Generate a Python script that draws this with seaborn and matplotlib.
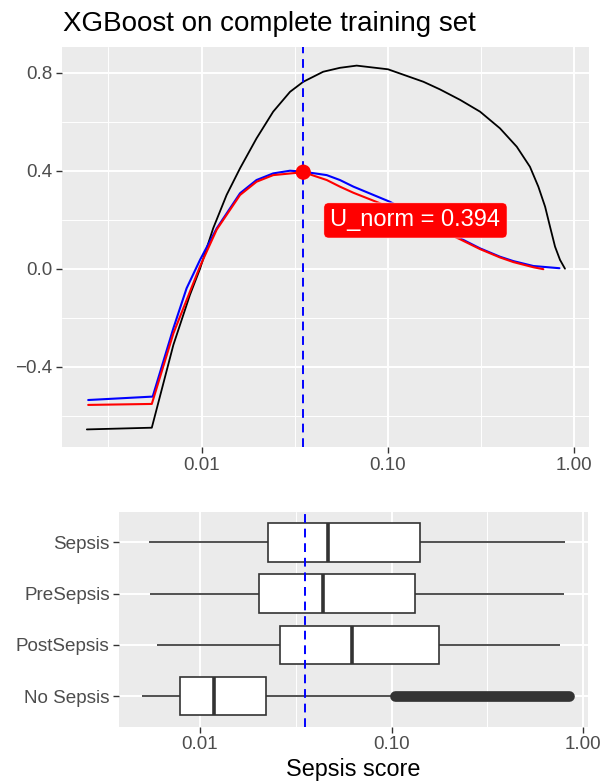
# XGBoost sepsis score: utility curve + score distribution per class

import numpy as np
import pandas as pd
import seaborn as sns
import matplotlib.pyplot as plt
from matplotlib.ticker import FixedLocator, NullFormatter

# utility curves (top panel)
black_x = [0.00242, 0.00540, 0.00705, 0.00865, 0.0098, 0.01153, 0.01361, 0.01607, 0.0197,
           0.0242, 0.0298, 0.0351, 0.0449, 0.0552, 0.0679, 0.1, 0.155, 0.190, 0.244,
           0.312, 0.399, 0.491, 0.578, 0.641, 0.697, 0.741, 0.788, 0.838, 0.891]
black_y = [-0.656, -0.649, -0.311, -0.107, 0.0, 0.165, 0.301, 0.410, 0.532,
           0.641, 0.722, 0.763, 0.804, 0.820, 0.829, 0.814, 0.763, 0.732, 0.689,
           0.641, 0.573, 0.498, 0.416, 0.335, 0.253, 0.171, 0.090, 0.036, 0.0]

blue_x = [0.00246, 0.00546, 0.00705, 0.0083, 0.0098, 0.01205, 0.01607, 0.0197, 0.0242,
          0.0298, 0.0351, 0.0469, 0.0552, 0.0652, 0.1025, 0.244, 0.312, 0.399, 0.471,
          0.603, 0.832]
blue_y = [-0.536, -0.522, -0.243, -0.080, 0.036, 0.165, 0.308, 0.362, 0.389,
          0.400, 0.396, 0.382, 0.362, 0.335, 0.273, 0.124, 0.083, 0.049, 0.031,
          0.011, 0.002]

red_x = [0.00246, 0.00540, 0.00705, 0.0098, 0.01205, 0.01607, 0.0197, 0.0242, 0.0351,
         0.0469, 0.0552, 0.0652, 0.0906, 0.244, 0.312, 0.399, 0.471, 0.603, 0.682]
red_y = [-0.556, -0.552, -0.264, 0.010, 0.160, 0.301, 0.355, 0.382, 0.394,
         0.362, 0.335, 0.310, 0.267, 0.120, 0.080, 0.046, 0.027, 0.006, -0.002]

threshold = 0.0351
u_norm = 0.394

# score distribution (bottom panel) - five-number summaries
groups = ["Sepsis", "PreSepsis", "PostSepsis", "No Sepsis"]
whisker_lo = [0.00544, 0.00550, 0.00594, 0.00497]
q1 = [0.02265, 0.0203, 0.0262, 0.00789]
median = [0.0468, 0.0440, 0.0619, 0.01183]
q3 = [0.1406, 0.1324, 0.1766, 0.0222]
whisker_hi = [0.803, 0.795, 0.757, 0.100]
# No Sepsis outliers form a solid band between these scores
nosepsis_outliers = [0.104, 0.84]

x_ticks = [0.01, 0.1, 1.0]
x_ticklabels = ["0.01", "0.10", "1.00"]
y_ticks = [-0.4, 0.0, 0.4, 0.8]

rows = []
for i, g in enumerate(groups):
    for v in [whisker_lo[i], q1[i], median[i], q3[i], whisker_hi[i]]:
        rows.append({"group": g, "score": v})
box_df = pd.DataFrame(rows)

sns.set_theme(style="darkgrid", rc={
    "axes.facecolor": "#EBEBEB",
    "axes.linewidth": 0,
    "grid.color": "white",
    "grid.linewidth": 1.4,
    "xtick.bottom": True, "ytick.left": True,
    "xtick.major.size": 4.2, "ytick.major.size": 4.2,
    "xtick.major.width": 1.0, "ytick.major.width": 1.0,
    "xtick.major.pad": 2.5, "ytick.major.pad": 2.5,
    "xtick.color": "#333333", "ytick.color": "#333333",
    "xtick.labelcolor": "#4D4D4D", "ytick.labelcolor": "#4D4D4D",
    "xtick.labelsize": 13.6, "ytick.labelsize": 13.6,
})
plt.rcParams["font.family"] = ["Liberation Sans", "DejaVu Sans"]

fig = plt.figure(figsize=(6.04, 7.82), dpi=100)
ax1 = fig.add_axes([0.1022, 0.428, 0.8735, 0.5115])
ax2 = fig.add_axes([0.197, 0.0707, 0.777, 0.2749])

# ---- top panel
ax1.set_xscale("log")
sns.lineplot(x=black_x, y=black_y, color="black", lw=1.3, sort=False, estimator=None, ax=ax1)
sns.lineplot(x=blue_x, y=blue_y, color="blue", lw=1.5, sort=False, estimator=None, ax=ax1)
sns.lineplot(x=red_x, y=red_y, color="red", lw=1.5, sort=False, estimator=None, ax=ax1)
ax1.axvline(threshold, color="blue", lw=1.4, ls=(0, (4.5, 3)), zorder=4)
sns.scatterplot(x=[threshold], y=[u_norm], color="red", s=120, edgecolor="none", zorder=5, ax=ax1)
ax1.text(threshold * 4, u_norm / 2, f"U_norm = {u_norm}", color="white", fontsize=17,
         ha="center", va="center", zorder=6,
         bbox=dict(boxstyle="round,pad=0.28,rounding_size=0.2", fc="red", ec="white", lw=0.4))

ax1.set_xlim(10 ** -2.751, 10 ** 0.0805)
ax1.set_ylim(-0.729, 0.9037)
ax1.set_xticks(x_ticks)
ax1.set_xticklabels(x_ticklabels)
ax1.set_yticks(y_ticks)
ax1.set_yticklabels([f"{v:.1f}".replace("-", "\u2212") for v in y_ticks])
ax1.xaxis.set_minor_locator(FixedLocator([10 ** -2.5, 10 ** -1.5, 10 ** -0.5]))
ax1.xaxis.set_minor_formatter(NullFormatter())
ax1.yaxis.set_minor_locator(FixedLocator([-0.6, -0.2, 0.2, 0.6]))
ax1.tick_params(which="minor", length=0)
ax1.grid(which="major", color="white", lw=1.4)
ax1.grid(which="minor", color="white", lw=0.7)
ax1.set_xlabel("")
ax1.set_ylabel("")

# ---- bottom panel
sns.boxplot(data=box_df, x="score", y="group", order=groups, orient="h", log_scale=True,
            whis=np.inf, width=0.75, color="white", linecolor="#333333", linewidth=1.2,
            showfliers=False, showcaps=False, medianprops={"linewidth": 2.6}, ax=ax2)
nosepsis_pos = groups.index("No Sepsis")
sns.lineplot(x=nosepsis_outliers, y=[nosepsis_pos] * 2, color="#333333", lw=7.7,
             solid_capstyle="round", estimator=None, sort=False, ax=ax2)
ax2.axvline(threshold, color="blue", lw=1.4, ls=(0, (4.5, 3)), zorder=4)

ax2.set_xlim(10 ** -2.423, 10 ** 0.0266)
ax2.set_ylim(len(groups) - 0.4, -0.6)
ax2.set_xticks(x_ticks)
ax2.set_xticklabels(x_ticklabels)
ax2.set_yticks(range(len(groups)))
ax2.set_yticklabels(groups)
ax2.xaxis.set_minor_locator(FixedLocator([10 ** -1.5, 10 ** -0.5]))
ax2.xaxis.set_minor_formatter(NullFormatter())
ax2.tick_params(which="minor", length=0)
ax2.set_axisbelow(True)
ax2.grid(which="major", color="white", lw=1.4)
ax2.grid(which="minor", axis="x", color="white", lw=0.7)
ax2.set_ylabel("")
ax2.set_xlabel("Sepsis score", fontsize=16.8, color="black")
ax2.xaxis.label.set_va("baseline")
ax2.xaxis.set_label_coords(0.5, -0.229)

fig.text(63 / 604, 1 - 30.7 / 782, "XGBoost on complete training set", fontsize=20,
         color="black", ha="left", va="baseline")

fig.savefig("out.png", dpi=100)
